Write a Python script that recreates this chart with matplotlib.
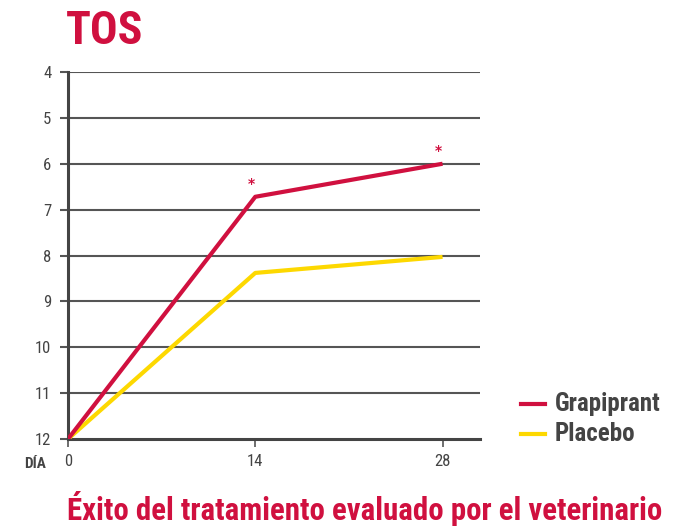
import matplotlib
matplotlib.use("Agg")
import matplotlib.pyplot as plt
from matplotlib import font_manager

days = [0, 14, 28]
grapiprant = [12, 6.72, 6.0]
placebo = [12, 8.38, 8.03]
yticks = [4, 5, 6, 7, 8, 9, 10, 11, 12]
xticks = [0, 14, 28]
signif_days = [14, 28]
signif_vals = [6.72, 6.0]

RED = "#D0103F"
YEL = "#FDD800"
GRAY = "#444444"

# find a condensed font if available
cond_family = "DejaVu Sans"
cond_stretch = "normal"
fl = font_manager.fontManager.ttflist
names = {f.name for f in fl}
for cand in ["Roboto Condensed", "Open Sans Condensed", "Liberation Sans Narrow", "DejaVu Sans Condensed"]:
    if cand in names:
        cond_family = cand
        break
else:
    for f in fl:
        if f.name in ("DejaVu Sans", "Open Sans", "Roboto", "Noto Sans") and "ondensed" in f.fname:
            cond_family = f.name
            cond_stretch = "condensed"
            break

FONT = dict(family=cond_family, stretch=cond_stretch)

fig = plt.figure(figsize=(6.73, 5.29), dpi=100)
ax = fig.add_axes([68/673, 1-439/529, 412/673, 367/529])

for y in yticks[:-1]:
    ax.axhline(y, color="#555555", lw=1.5, zorder=1)

ax.plot(days, placebo, color=YEL, lw=3, solid_capstyle="butt", zorder=3)
ax.plot(days, grapiprant, color=RED, lw=3, solid_capstyle="butt", zorder=4)
for d, v in zip(signif_days, signif_vals):
    ax.text(d - 0.3, v - 0.12, "*", color=RED, fontsize=10, ha="center", va="bottom", fontweight="bold")

ax.set_xlim(0, 30.8)
ax.set_ylim(12, 4)
ax.set_yticks(yticks)
ax.set_xticks(xticks)
for s in ["top", "right"]:
    ax.spines[s].set_visible(False)
for s in ["left", "bottom"]:
    ax.spines[s].set_color("#444444")
    ax.spines[s].set_linewidth(2.2)
ax.tick_params(axis="y", length=6, width=1.5, color="#555555", labelcolor=GRAY, pad=6)
ax.tick_params(axis="x", length=6, width=1.2, color="#555555", labelcolor=GRAY, pad=5)
for lab in ax.get_xticklabels() + ax.get_yticklabels():
    lab.set_family(cond_family)
    lab.set_stretch(cond_stretch)
    lab.set_fontsize(12)

fig.text(24/673, 1-464/529, "DÍA", fontsize=11, fontweight="bold", color=GRAY, va="center", ha="left", **FONT)
t_title = fig.text(66/673, 1-31/529, "TOS", fontsize=33, fontweight="bold", color=RED, va="center", ha="left", **FONT)
t_sub = fig.text(67/673, 1-508/529, "Éxito del tratamiento evaluado por el veterinario", fontsize=23,
                 fontweight="bold", color=RED, va="center", ha="left", **FONT)

# legend
fig.lines.append(plt.Line2D([521/673, 545/673], [1-404/529]*2, color=RED, lw=3, transform=fig.transFigure))
fig.lines.append(plt.Line2D([521/673, 545/673], [1-434/529]*2, color=YEL, lw=3, transform=fig.transFigure))
t_g = fig.text(555/673, 1-404/529, "Grapiprant", fontsize=13, fontweight="bold", color=GRAY, va="center", ha="left", **FONT)
t_p = fig.text(555/673, 1-434/529, "Placebo", fontsize=13, fontweight="bold", color=GRAY, va="center", ha="left", **FONT)

# fit widths to reference
fig.canvas.draw()
r = fig.canvas.get_renderer()
def fit(t, target_px, maxsize):
    w = t.get_window_extent(r).width
    t.set_fontsize(min(maxsize, t.get_fontsize() * target_px / w))
    return t.get_fontsize()
fit(t_sub, 597, 26)
s = fit(t_g, 110, 18)
t_p.set_fontsize(s)

fig.savefig("out.png", dpi=100)
